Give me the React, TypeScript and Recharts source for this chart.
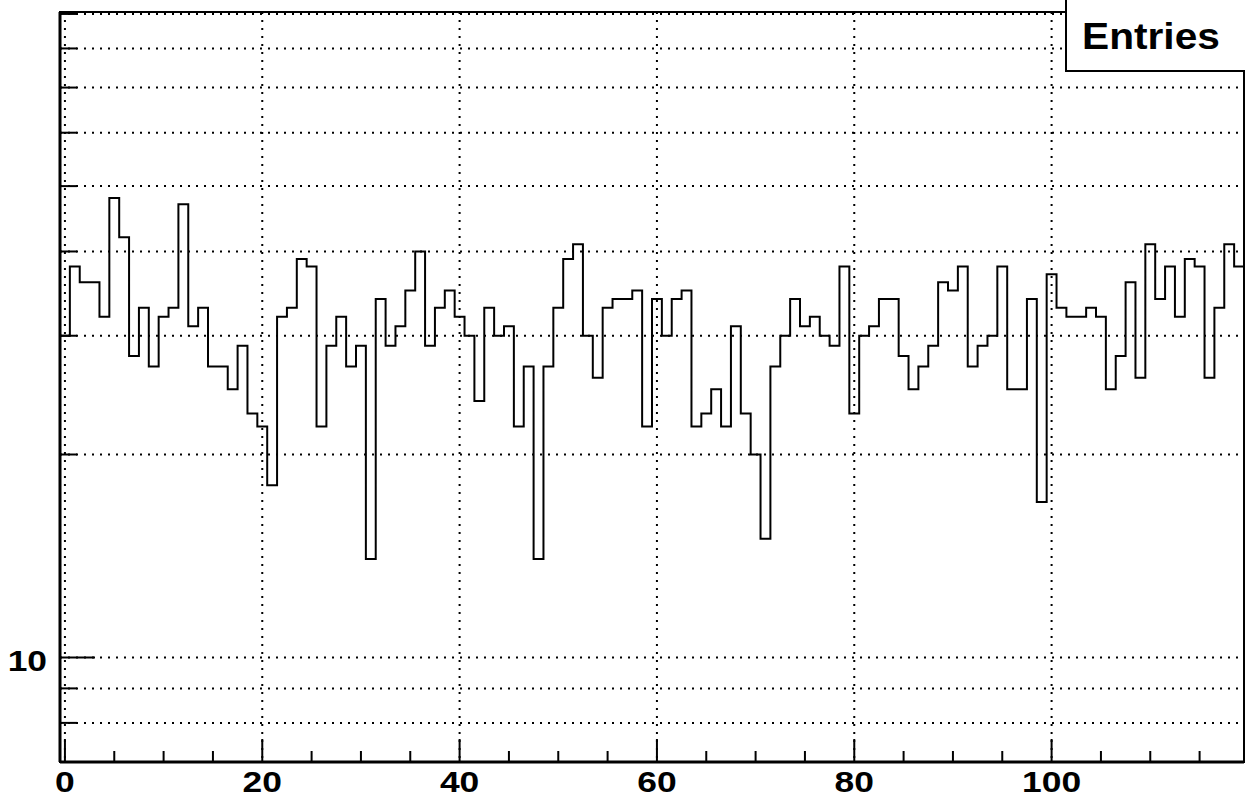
import { ComposedChart, Line, XAxis, YAxis, CartesianGrid, ReferenceArea } from "recharts";

// entries per bin, bins centred on 0..119
const BIN_VALUES = [
    30, 38, 36, 36, 32, 48, 42, 28, 33, 27,
    32, 33, 47, 31, 33, 27, 27, 25, 29, 23,
    22, 18, 32, 33, 39, 38, 22, 29, 32, 27,
    29, 14, 34, 29, 31, 35, 40, 29, 33, 35,
    32, 30, 24, 33, 30, 31, 22, 27, 14, 27,
    33, 39, 41, 30, 26, 33, 34, 34, 35, 22,
    34, 30, 34, 35, 22, 23, 25, 22, 31, 23,
    20, 15, 27, 30, 34, 31, 32, 30, 29, 38,
    23, 30, 31, 34, 34, 28, 25, 27, 29, 36,
    35, 38, 27, 29, 30, 38, 25, 25, 34, 17,
    37, 33, 32, 32, 33, 32, 25, 28, 36, 26,
    41, 34, 38, 32, 39, 38, 26, 33, 41, 38,
];

const X_TICKS = [0, 5, 10, 15, 20, 25, 30, 35, 40, 45, 50, 55, 60, 65, 70, 75, 80, 85, 90, 95, 100, 105, 110, 115];
const X_MAJOR = [0, 20, 40, 60, 80, 100];
const Y_TICKS = [8, 9, 10, 20, 30, 40, 50, 60, 70, 80, 90];
const Y_MAJOR = [10];
const X_DOMAIN: [number, number] = [-0.5, 119.5];
const Y_DOMAIN: [number, number] = [7, 90.6];

const W = 1245;
const H = 799;
const LEFT = 60;
const BOTTOM = 762;
const FONT = '"Liberation Sans", Arial, Helvetica, sans-serif';

// histogram outline: one point per lower bin edge plus the closing edge
const steps = BIN_VALUES.map((v, i) => ({ x: i - 0.5, v }));
steps.push({ x: BIN_VALUES.length - 0.5, v: BIN_VALUES[BIN_VALUES.length - 1] });

function XTick(props: any) {
    const { x, payload } = props;
    const major = X_MAJOR.includes(payload.value);
    return (
        <g>
            <line x1={x} x2={x} y1={BOTTOM} y2={BOTTOM - (major ? 23 : 11)} stroke="#000" strokeWidth={2} />
            {major && (
                <text
                    transform={`translate(${x},${BOTTOM + 30}) scale(1.18,1)`}
                    textAnchor="middle"
                    fontFamily={FONT}
                    fontWeight="bold"
                    fontSize={30}
                    fill="#000"
                >
                    {payload.value}
                </text>
            )}
        </g>
    );
}

function YTick(props: any) {
    const { y, payload } = props;
    const major = Y_MAJOR.includes(payload.value);
    return (
        <g>
            <line x1={LEFT} x2={LEFT + (major ? 35 : 17)} y1={y} y2={y} stroke="#000" strokeWidth={2} />
            {major && (
                <text
                    transform={`translate(47,${y + 13.5}) scale(1.18,1)`}
                    textAnchor="end"
                    fontFamily={FONT}
                    fontWeight="bold"
                    fontSize={30}
                    fill="#000"
                >
                    {payload.value}
                </text>
            )}
        </g>
    );
}

export default function App() {
    return (
        <div style={{ position: "absolute", left: 0, top: 0, width: W, height: H, background: "#fff" }}>
            <ComposedChart width={W} height={H} data={steps} margin={{ top: 12, right: 1, bottom: 0, left: 0 }}>
                <CartesianGrid
                    stroke="#000"
                    strokeWidth={2}
                    strokeDasharray="2 6"
                    horizontalValues={Y_TICKS}
                    verticalValues={X_MAJOR}
                />
                <XAxis
                    dataKey="x"
                    type="number"
                    domain={X_DOMAIN}
                    ticks={X_TICKS}
                    interval={0}
                    height={37}
                    tickLine={false}
                    axisLine={{ stroke: "#000", strokeWidth: 3 }}
                    tick={<XTick />}
                    allowDataOverflow
                />
                <YAxis
                    type="number"
                    scale="log"
                    domain={Y_DOMAIN}
                    ticks={Y_TICKS}
                    interval={0}
                    width={60}
                    tickLine={false}
                    axisLine={{ stroke: "#000", strokeWidth: 3 }}
                    tick={<YTick />}
                    allowDataOverflow
                />
                <ReferenceArea
                    x1={X_DOMAIN[0]}
                    x2={X_DOMAIN[1]}
                    y1={Y_DOMAIN[0]}
                    y2={Y_DOMAIN[1]}
                    fill="none"
                    stroke="#000"
                    strokeWidth={2}
                    ifOverflow="visible"
                />
                <Line
                    type="stepAfter"
                    dataKey="v"
                    stroke="#000"
                    strokeWidth={2}
                    dot={false}
                    activeDot={false}
                    isAnimationActive={false}
                />
            </ComposedChart>
            <svg width={W} height={H} style={{ position: "absolute", left: 0, top: 0, pointerEvents: "none" }}>
                <rect x={1066} y={-5} width={200} height={76} fill="#fff" stroke="#000" strokeWidth={2} />
                <text
                    transform="translate(1082,49) scale(1.13,1)"
                    fontFamily={FONT}
                    fontWeight="bold"
                    fontSize={36}
                    fill="#000"
                >
                    Entries
                </text>
            </svg>
        </div>
    );
}
